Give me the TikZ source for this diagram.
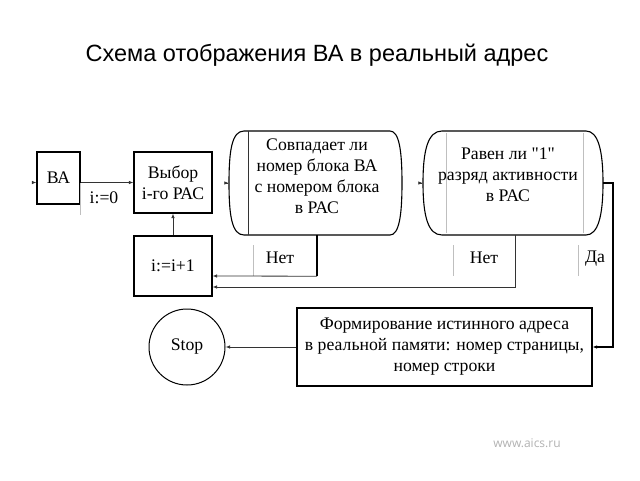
\documentclass[tikz,border=0pt]{standalone}
\usepackage{fontspec}
\setmainfont{Liberation Serif}
\newfontfamily\qfont{Liberation Serif}[Ligatures=TeXOff]
\newfontfamily\titlefont{Liberation Sans}
\newfontfamily\wmfont{Open Sans}
\usetikzlibrary{arrows.meta,calc}
\begin{document}
\begin{tikzpicture}[x=1pt,y=-1pt,
  box/.style={draw=black,line width=1.1pt,inner sep=0pt,align=center,font=\fontsize{17.7}{21}\selectfont},
  ghost/.style={draw=none,inner sep=0pt,align=center},
  lbl/.style={inner sep=0pt,font=\fontsize{17.7}{21}\selectfont},
  arr/.style={line width=0.8pt,draw=black!80,-{Latex[length=4.5pt,width=3.5pt]}},
  con/.style={line width=1.1pt,draw=black},
  faint/.style={line width=0.6pt,draw=black!25}]
\useasboundingbox (0,0) rectangle (640,480);
\fill[white] (0,0) rectangle (640,480);
% title
\node[inner sep=0pt,font=\titlefont\fontsize{23.5}{28}\selectfont] (title) at (317,55) {Схема отображения ВА в реальный адрес};
% boxes
\node[box,minimum width=43pt,minimum height=52pt] (ba) at (58.5,178) {ВА};
\node[box,minimum width=78pt,minimum height=61pt] (sel) at (173,182.5) {Выбор\\i-го РАС};
\node[box,minimum width=78pt,minimum height=60pt] (inc) at (173,266) {i:=i+1};
\node[box,minimum width=295pt,minimum height=78pt] (form) at (444.5,347) {Формирование истинного адреса\\ в реальной памяти: номер страницы,\\номер строки};
\node[box,circle,minimum size=76pt,line width=1pt] (stop) at (187,347) {Stop};
% decision 1
\node[ghost,minimum width=173pt,minimum height=104pt] (d1) at (315.5,183) {};
\node[lbl,align=center] (d1t) at (317,176) {Совпадает ли\\номер блока ВА\\с номером блока\\в РАС};
\draw[con] (244,131) -- (390,131) .. controls (399,131) and (402,150) .. (402,183)
  .. controls (402,216) and (399,235) .. (390,235) -- (244,235)
  .. controls (232,235) and (229,216) .. (229,183) .. controls (229,150) and (232,131) .. (244,131) -- cycle;
\draw[line width=0.9pt,black!80] (248,131) -- (248,235);
% decision 2
\node[ghost,minimum width=180pt,minimum height=104pt] (d2) at (513,183) {};
\node[lbl,align=center] (d2t) at (508,175) {Равен ли {\qfont"}1{\qfont"}\\разряд активности\\в РАС};
\draw[con] (442,131) -- (586,131) .. controls (598,131) and (603,150) .. (603,183)
  .. controls (603,216) and (598,235) .. (586,235) -- (442,235)
  .. controls (428,235) and (423,216) .. (423,183) .. controls (423,150) and (428,131) .. (442,131) -- cycle;
\draw[faint] (446,133) -- (446,233);
\draw[faint] (583,133) -- (583,233);
% incoming arrowheads
\draw[arr] ($(ba.west|-sel.west)+(-1,0)$) -- (ba.west|-sel.west);
\draw[arr] ($(d1.west)+(-1,0)$) -- (d1.west);
\draw[arr] ($(d2.west)+(-1,0)$) -- (d2.west);
% labels
\node[lbl] (l0) at (104,198) {i:=0};
\draw[faint] (80,183) -- (80,215);
\node[lbl] (n1) at (280,258) {Нет};
\draw[faint] (253,245) -- (253,276);
\node[lbl] (n2) at (484,258) {Нет};
\draw[faint] (453,245) -- (453,276);
\node[lbl] (da) at (595,259) {Да};
\draw[faint] (578,245) -- (578,276);
% connectors
\draw[arr] (ba.east|-sel.west) -- (sel.west);
\draw[arr] (inc.north) -- (sel.south);
\draw[con] ($(d1.south)+(1.5,0)$) -- ++(0,41);
\draw[arr] ($(d1.south)+(1.5,41)$) -- ($(inc.east)+(0,10)$);
\draw[arr] ($(d2.south)+(2,0)$) |- ($(inc.east)+(0,21)$);
\coordinate (dacorner) at (613,183);
\draw[con,-{Latex[length=4.5pt,width=3.5pt]}] (d2.east) -- (dacorner) |- (form.east);
\draw[arr] (form.west) -- (stop.east);
% site mark
\node[inner sep=0pt,text=black!30,font=\wmfont\fontsize{12}{14}\selectfont] (site) at (527,443) {www.aics.ru};
\end{tikzpicture}
\end{document}
